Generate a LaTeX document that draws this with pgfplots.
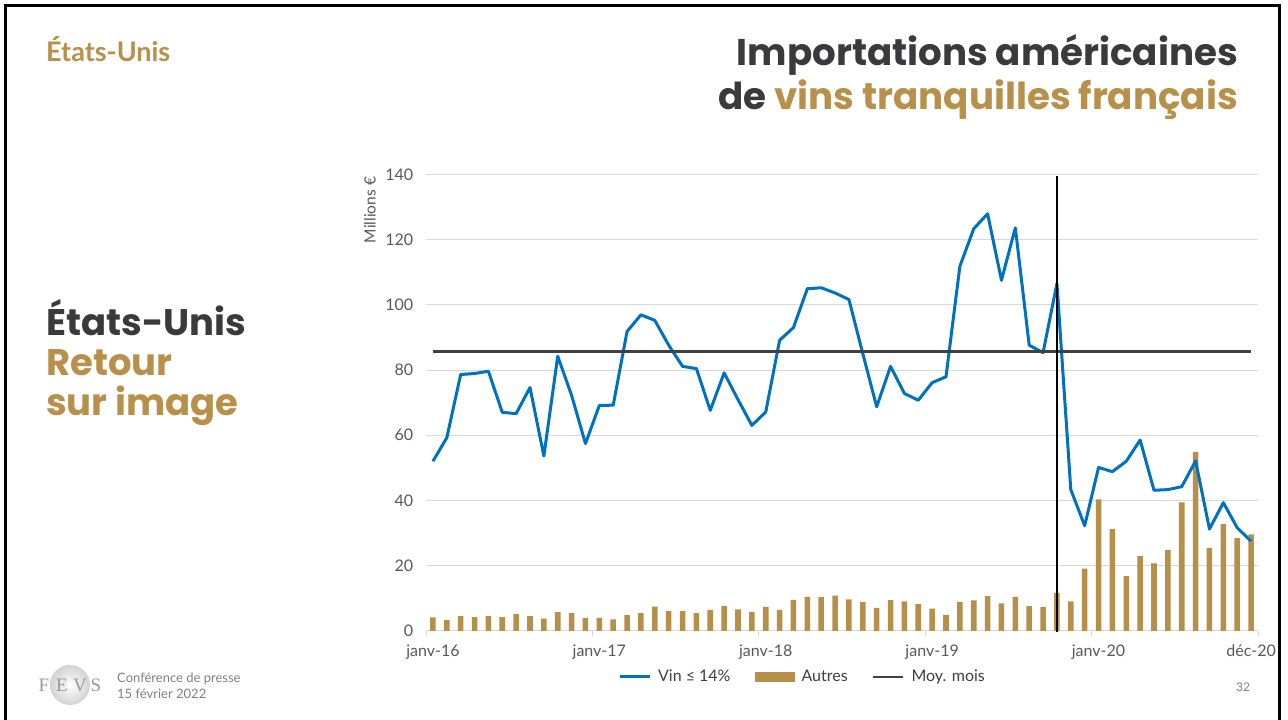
\documentclass[border=0pt]{standalone}
\usepackage{fontspec}
\setmainfont{Lato}
\newfontfamily\poppins{Poppins}
\newfontfamily\serifl{Liberation Serif}
\usepackage{pgfplots}
\usepackage{pgfplotstable}
\pgfplotsset{compat=1.18}
\definecolor{vblue}{HTML}{0070C0}
\definecolor{gold}{HTML}{B68F49}
\definecolor{tgold}{HTML}{B8904A}
\definecolor{tdark}{HTML}{3A3A3C}
\definecolor{moy}{HTML}{404040}
\definecolor{gridc}{HTML}{D9D9D9}
\definecolor{tickc}{HTML}{595959}
\definecolor{footc}{HTML}{808080}
\definecolor{legc}{HTML}{3F3F3F}
\pgfplotsset{
  mylinelegend/.style={legend image code/.code={\draw[##1] (0pt,0pt) -- (30pt,0pt);}},
  myboxlegend/.style={legend image code/.code={\fill[##1] (0pt,-5pt) rectangle (40pt,5pt);}},
}

\pgfplotstableread{
m vin autres
0 52.0 4.1
1 59.2 3.3
2 78.6 4.5
3 78.9 4.2
4 79.6 4.5
5 67.0 4.2
6 66.6 5.1
7 74.6 4.5
8 53.6 3.7
9 84.2 5.7
10 72.2 5.4
11 57.4 4.0
12 69.1 4.0
13 69.2 3.5
14 91.8 4.8
15 96.9 5.4
16 95.2 7.4
17 87.6 6.0
18 81.1 6.0
19 80.4 5.4
20 67.6 6.4
21 79.1 7.6
22 70.9 6.6
23 63.0 5.8
24 67.1 7.3
25 89.1 6.4
26 93.0 9.5
27 104.9 10.4
28 105.2 10.3
29 103.6 10.8
30 101.6 9.6
31 85.0 8.8
32 68.7 7.0
33 81.1 9.4
34 72.8 9.0
35 70.7 8.2
36 76.1 6.8
37 77.9 4.9
38 111.8 8.9
39 123.3 9.3
40 127.9 10.6
41 107.5 8.4
42 123.6 10.4
43 87.6 7.6
44 85.3 7.3
45 106.5 11.6
46 43.3 9.0
47 32.2 19.1
48 50.1 40.3
49 48.8 31.2
50 52.0 16.8
51 58.5 22.9
52 43.1 20.7
53 43.3 24.8
54 44.2 39.4
55 52.1 54.9
56 31.2 25.4
57 39.3 32.7
58 31.6 28.4
59 27.5 29.6
}\datatable

\begin{document}
\begin{tikzpicture}
\useasboundingbox (0,0) rectangle (1288pt,720pt);
\fill[white] (0,0) rectangle (1288pt,720pt);
\begin{scope}
\clip (0,0) rectangle (1288pt,720pt);
\draw[black, line width=3pt] (5.5pt,-10pt) rectangle (1279.5pt,714.5pt);
\end{scope}

% top-left label
\node[anchor=base west, inner sep=0pt, text=tgold, font=\fontsize{27}{31}\selectfont\bfseries] at (46pt,658pt) {États-Unis};

% title
\node[anchor=base east, inner sep=0pt, text=tdark, font=\poppins\bfseries\fontsize{37.2}{42}\selectfont] at (1238pt,654pt) {Importations américaines};
\node[anchor=base east, inner sep=0pt, text=tdark, font=\poppins\bfseries\fontsize{37.2}{42}\selectfont] at (1238pt,610pt) {de \textcolor{tgold}{vins tranquilles français}};

% left big text
\node[anchor=base west, inner sep=0pt, text=tdark, font=\poppins\bfseries\fontsize{37}{42}\selectfont] at (46pt,384pt) {États-Unis};
\node[anchor=base west, inner sep=0pt, text=tgold, font=\poppins\bfseries\fontsize{37}{42}\selectfont] at (46pt,344pt) {Retour};
\node[anchor=base west, inner sep=0pt, text=tgold, font=\poppins\bfseries\fontsize{37}{42}\selectfont] at (46pt,304pt) {sur image};

% footer logo
\shade[inner color=white, outer color=gray!35] (70pt,35pt) circle (20pt);
\node[anchor=base, inner sep=0pt, text=gray!80, font=\serifl\fontsize{19}{20}\selectfont] at (44pt,28pt) {F};
\node[anchor=base, inner sep=0pt, text=gray!80, font=\serifl\fontsize{19}{20}\selectfont] at (62pt,28pt) {E};
\node[anchor=base, inner sep=0pt, text=gray!80, font=\serifl\fontsize{19}{20}\selectfont] at (80pt,28pt) {V};
\node[anchor=base, inner sep=0pt, text=gray!80, font=\serifl\fontsize{19}{20}\selectfont] at (96pt,28pt) {S};
\node[anchor=base west, inner sep=0pt, text=footc, font=\fontsize{13}{15}\selectfont] at (117pt,37pt) {Conférence de presse};
\node[anchor=base west, inner sep=0pt, text=footc, font=\fontsize{13}{15}\selectfont] at (117pt,21pt) {15 février 2022};
\node[inner sep=0pt, text=footc, font=\fontsize{12}{14}\selectfont] at (1243pt,33pt) {32};

% y label
\node[rotate=90, inner sep=0pt, text=tickc, font=\fontsize{15.5}{18}\selectfont] at (370pt,510pt) {Millions €};

\begin{axis}[
  at={(426pt,89.2pt)}, anchor=south west,
  scale only axis, width=832pt, height=456.5pt,
  xmin=-0.5, xmax=59.5, ymin=0, ymax=140,
  axis x line*=bottom, axis y line*=left,
  y axis line style={draw=none},
  x axis line style={gridc, line width=0.8pt},
  ytick={0,20,...,140},
  ytick style={draw=none},
  ymajorgrids, grid style={gridc, line width=0.8pt},
  xtick={0,12,24,36,48,59},
  xticklabels={janv-16,janv-17,janv-18,janv-19,janv-20,déc-20},
  major x tick style={draw=none},
  minor xtick={-0.5,11.5,23.5,35.5,47.5,59.5},
  minor x tick style={gridc, line width=0.8pt},
  minor tick length=5pt, tick align=outside,
  /pgf/number format/assume math mode=true,
  ticklabel style={font=\fontsize{16}{19}\selectfont, text=tickc},
  xticklabel style={yshift=-6.5pt},
  yticklabel style={xshift=-5pt},
  clip=false,
  legend style={at={(0.4525,-0.101)}, anchor=center, draw=none, fill=none,
    legend columns=3, font=\fontsize{16}{19}\selectfont, text=legc,
    /tikz/every odd column/.append style={column sep=5pt},
    /tikz/every even column/.append style={column sep=22pt}},
  legend cell align=left,
]
\addplot[ybar, bar width=0.4, fill=gold, draw=none, forget plot] table[x=m, y=autres] {\datatable};
\addplot[vblue, line width=3pt, line join=round, forget plot] table[x=m, y=vin] {\datatable};
\addplot[moy, line width=2.8pt, forget plot] coordinates {(0,85.7) (59,85.7)};
\addplot[black, line width=1.6pt, forget plot] coordinates {(45,-0.5) (45,139.5)};
\addlegendimage{vblue, line width=3pt, mylinelegend}
\addlegendentry{Vin ≤ 14\%}
\addlegendimage{fill=gold, draw=none, myboxlegend}
\addlegendentry{Autres}
\addlegendimage{moy, line width=2.8pt, mylinelegend}
\addlegendentry{Moy. mois}
\end{axis}
\end{tikzpicture}
\end{document}
